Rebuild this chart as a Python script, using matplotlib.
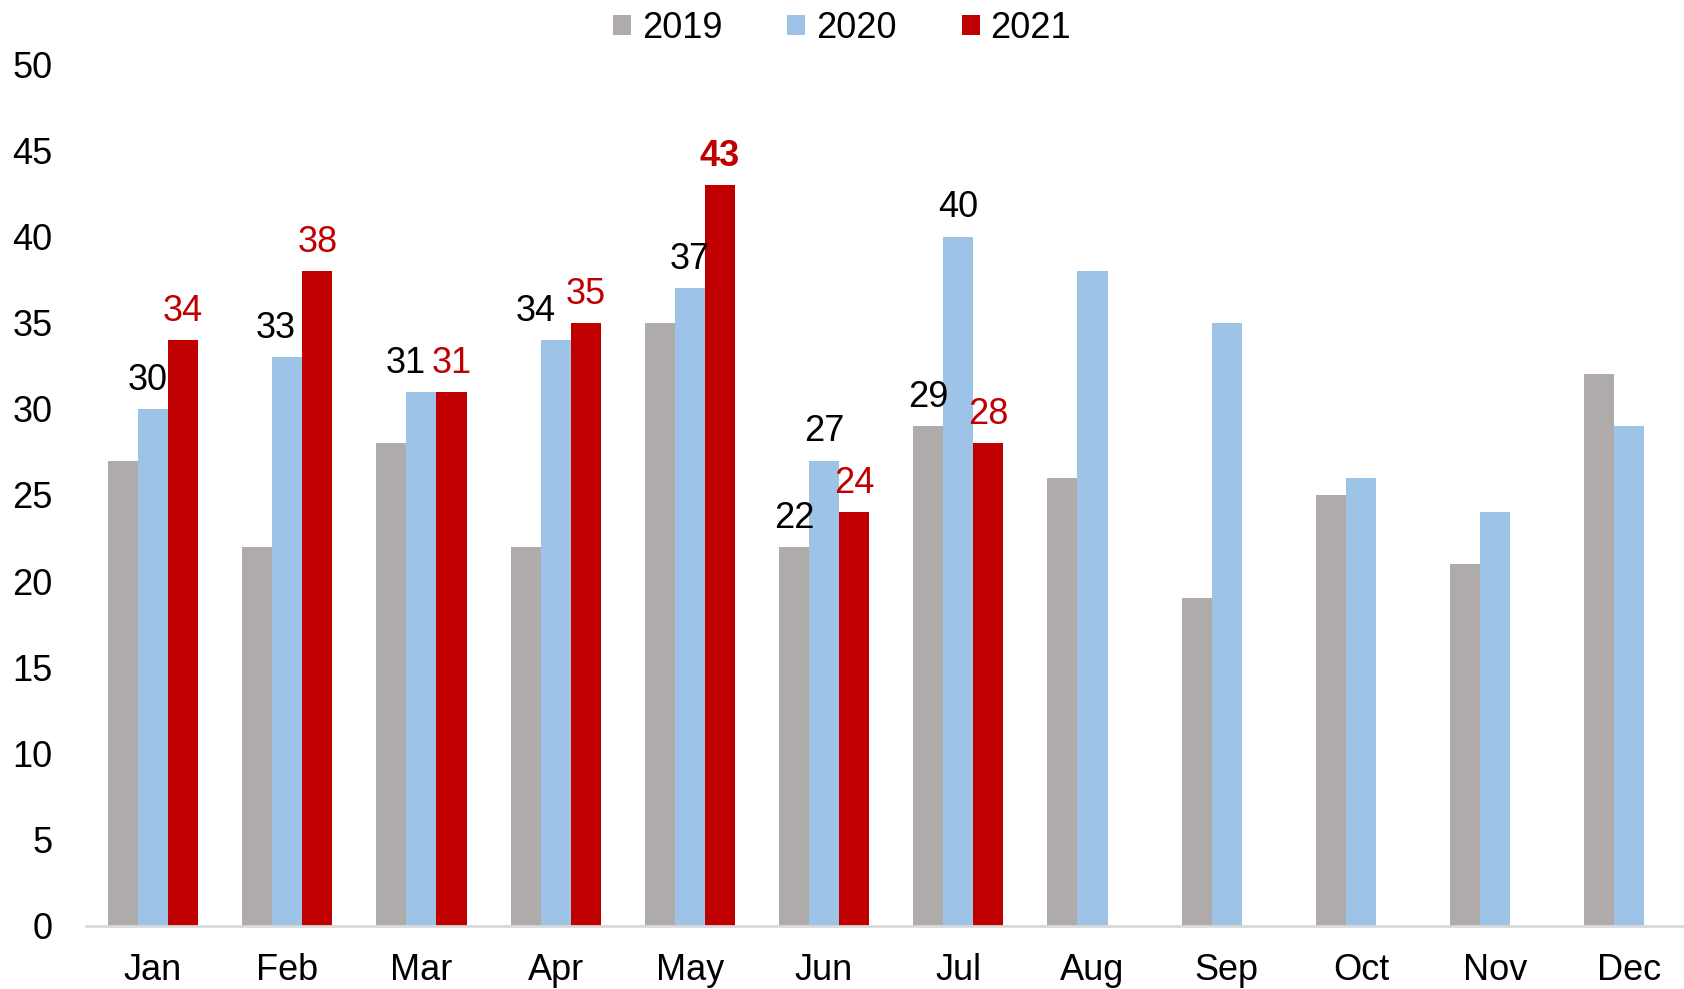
import matplotlib

matplotlib.use("Agg")
import matplotlib.pyplot as plt
import numpy as np

plt.rcParams["font.family"] = ["Liberation Sans", "DejaVu Sans"]

months = ["Jan", "Feb", "Mar", "Apr", "May", "Jun", "Jul", "Aug", "Sep", "Oct", "Nov", "Dec"]
v2019 = [27, 22, 28, 22, 35, 22, 29, 26, 19, 25, 21, 32]
v2020 = [30, 33, 31, 34, 37, 27, 40, 38, 35, 26, 24, 29]
v2021 = [34, 38, 31, 35, 43, 24, 28]

# which bars carry a value label
label_2019 = [5, 6]
label_2020 = [0, 1, 2, 3, 4, 5, 6]
label_2021 = [0, 1, 2, 3, 4, 5, 6]

C19, C20, C21 = "#AFABAB", "#9DC3E6", "#C00000"

fig = plt.figure(figsize=(16.84, 9.89), dpi=100)
ax = fig.add_axes([0.051, 0.064, 0.950, 0.871])

x = np.arange(len(months))
w = 0.224
ax.bar(x - w, v2019, w, color=C19, label="2019")
ax.bar(x, v2020, w, color=C20, label="2020")
ax.bar(np.arange(len(v2021)) + w, v2021, w, color=C21, label="2021")

fs = 26
for i in label_2019:
    ax.annotate(str(v2019[i]), (x[i] - w, v2019[i]), xytext=(0, 8), textcoords="offset points",
                ha="center", va="bottom", fontsize=fs, color="black")
# small sideways nudges used in the original to avoid overlaps
nudge20 = {0: -4, 1: -8, 2: -11, 3: -14}
for i in label_2020:
    ax.annotate(str(v2020[i]), (x[i], v2020[i]), xytext=(nudge20.get(i, 0), 8), textcoords="offset points",
                ha="center", va="bottom", fontsize=fs, color="black")
for i in label_2021:
    bold = v2021[i] == max(v2021)
    ax.annotate(str(v2021[i]), (x[i] + w, v2021[i]), xytext=(0, 8), textcoords="offset points",
                ha="center", va="bottom", fontsize=fs, color=C21,
                fontweight="bold" if bold else "normal")

ax.set_ylim(0, 50)
ax.set_yticks(range(0, 51, 5))
ax.set_xlim(-0.5, 11.42)
ax.set_xticks(x)
ax.set_xticklabels(months)
ax.tick_params(axis="both", length=0, labelsize=fs)
ax.tick_params(axis="x", pad=20)
ax.tick_params(axis="y", pad=24)
for s in ["top", "right", "left"]:
    ax.spines[s].set_visible(False)
ax.spines["bottom"].set_color("#D9D9D9")
ax.spines["bottom"].set_linewidth(2)

fig.legend(loc="upper center", bbox_to_anchor=(0.5, 1.022), ncol=3, frameon=False,
           fontsize=fs, handlelength=0.5, handleheight=0.5, handletextpad=0.3,
           columnspacing=1.8)

fig.savefig("out.png", dpi=100)
